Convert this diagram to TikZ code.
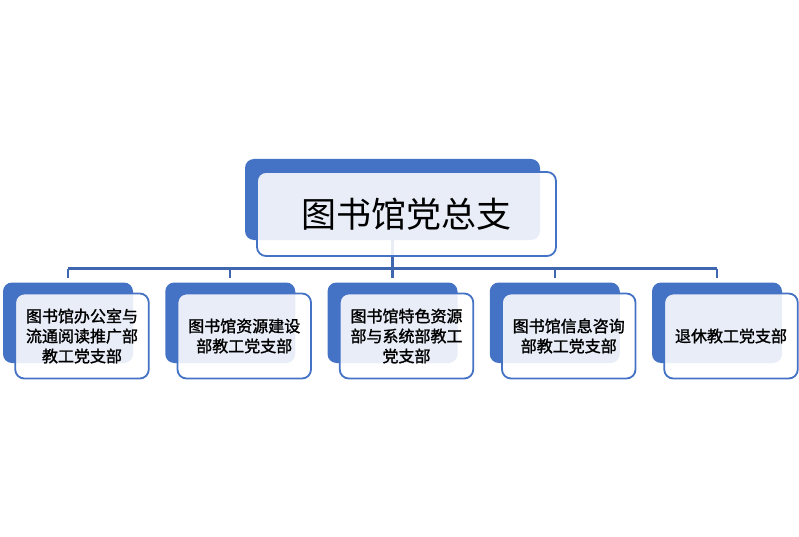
\documentclass[tikz,border=0pt]{standalone}
\usepackage{fontspec}
\newfontfamily\cjk{Noto Sans CJK SC}
\newfontfamily\cjkm[FakeBold=1.5]{Noto Sans CJK SC}
\definecolor{blueD}{HTML}{4472C4}
\definecolor{lineC}{HTML}{3F67B0}
\begin{document}
\begin{tikzpicture}[x=1pt,y=-1pt,
  back/.style={fill=blueD, draw=none, rounded corners=9pt, inner sep=0pt},
  front/.style={draw=blueD, line width=1.8pt, fill=white, fill opacity=0.88,
    text opacity=1, rounded corners=9pt, inner sep=0pt, align=center},
  kid/.style={font=\cjkm\fontsize{16pt}{20pt}\selectfont},
  conn/.style={draw=lineC, line width=2.2pt}]
\useasboundingbox (0,0) rectangle (799,537);
% top
\node[back, minimum width=295pt, minimum height=81pt] (t0) at (392.5,199.5) {};
\coordinate (bar) at (392.5,268.5);
\draw[conn] (t0.south) -- (bar);
\node[front, minimum width=299pt, minimum height=84pt,
  font=\cjk\fontsize{35pt}{40pt}\selectfont] (t1) at (406.5,214) {图书馆党总支};
% children back boxes
\foreach \i/\cx in {1/68,2/230.25,3/392.5,4/554.75,5/717}{
  \node[back, minimum width=130pt, minimum height=80.5pt] (d\i) at (\cx,322.75) {};
}
\draw[conn] (d1.north |- bar) -- (d5.north |- bar);
\foreach \i in {1,...,5}{
  \draw[conn] (d\i.north |- bar) -- ([yshift=4.5pt]d\i.north);
}
\node[front, kid, minimum width=133.5pt, minimum height=85pt] (f1) at (82,336) {图书馆办公室与\\流通阅读推广部\\教工党支部};
\node[front, kid, minimum width=133.5pt, minimum height=85pt] (f2) at (244.25,336) {图书馆资源建设\\部教工党支部};
\node[front, kid, minimum width=133.5pt, minimum height=85pt] (f3) at (406.5,336) {图书馆特色资源\\部与系统部教工\\党支部};
\node[front, kid, minimum width=133.5pt, minimum height=85pt] (f4) at (568.75,336) {图书馆信息咨询\\部教工党支部};
\node[front, kid, minimum width=133.5pt, minimum height=85pt] (f5) at (731,336) {退休教工党支部};
\end{tikzpicture}
\end{document}
